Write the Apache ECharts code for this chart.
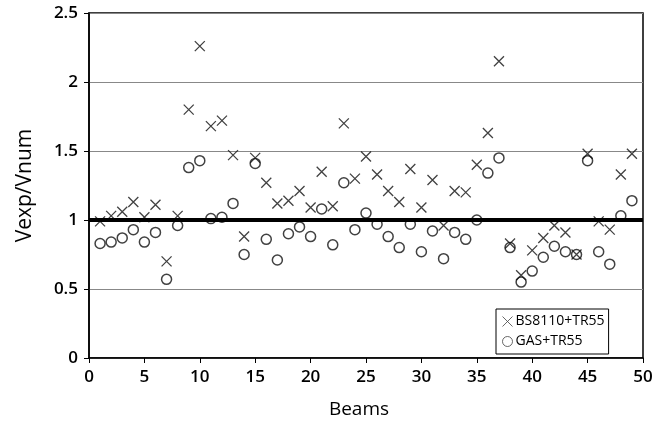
<!DOCTYPE html>
<html>
<head>
<meta charset="utf-8">
<script src="https://cdn.jsdelivr.net/npm/echarts@6/dist/echarts.min.js"></script>
<style>
    html, body { margin: 0; padding: 0; background: #fff; }
    #chart { width: 670px; height: 424px; }
</style>
</head>
<body>
<div id="chart"></div>
<script>
// beam numbers 1..49
const beams = [1, 2, 3, 4, 5, 6, 7, 8, 9, 10, 11, 12, 13, 14, 15, 16, 17, 18, 19, 20,
    21, 22, 23, 24, 25, 26, 27, 28, 29, 30, 31, 32, 33, 34, 35, 36, 37, 38, 39, 40,
    41, 42, 43, 44, 45, 46, 47, 48, 49]

// Vexp/Vnum, BS8110+TR55
const bs8110 = [0.99, 1.03, 1.06, 1.13, 1.02, 1.11, 0.70, 1.03, 1.80, 2.26,
    1.68, 1.72, 1.47, 0.88, 1.45, 1.27, 1.12, 1.14, 1.21, 1.09,
    1.35, 1.10, 1.70, 1.30, 1.46, 1.33, 1.21, 1.13, 1.37, 1.09,
    1.29, 0.96, 1.21, 1.20, 1.40, 1.63, 2.15, 0.83, 0.60, 0.78,
    0.87, 0.96, 0.91, 0.75, 1.48, 0.99, 0.93, 1.33, 1.48]

// Vexp/Vnum, GAS+TR55
const gas = [0.83, 0.84, 0.87, 0.93, 0.84, 0.91, 0.57, 0.96, 1.38, 1.43,
    1.01, 1.02, 1.12, 0.75, 1.41, 0.86, 0.71, 0.90, 0.95, 0.88,
    1.08, 0.82, 1.27, 0.93, 1.05, 0.97, 0.88, 0.80, 0.97, 0.77,
    0.92, 0.72, 0.91, 0.86, 1.00, 1.34, 1.45, 0.80, 0.55, 0.63,
    0.73, 0.81, 0.77, 0.75, 1.43, 0.77, 0.68, 1.03, 1.14]

const xTicks = [0, 5, 10, 15, 20, 25, 30, 35, 40, 45, 50]
const yTicks = [0, 0.5, 1, 1.5, 2, 2.5]

const crossPath = 'path://M0,0L10,10M10,0L0,10'
const font = "'Open Sans', 'Noto Sans', sans-serif"

const chart = echarts.init(document.getElementById('chart'))

const option = {
    backgroundColor: '#fff',
    animation: false,
    textStyle: { fontFamily: font, color: '#000' },
    grid: {
        left: 89,
        right: 27,
        top: 13,
        bottom: 64,
        show: true,
        borderColor: '#000',
        borderWidth: 1.5,
    },
    legend: {
        orient: 'vertical',
        left: 496,
        top: 309,
        padding: [5, 4, 5, 4],
        itemGap: 5,
        itemWidth: 10,
        itemHeight: 10,
        borderColor: '#000',
        borderWidth: 1,
        backgroundColor: '#fff',
        textStyle: { fontSize: 14, fontFamily: font, color: '#000', padding: [0, 0, 0, -2] },
        data: [
            { name: 'BS8110+TR55', icon: crossPath, itemStyle: { color: 'none', borderColor: '#444', borderWidth: 1 } },
            { name: 'GAS+TR55', icon: 'circle', itemStyle: { color: 'none', borderColor: '#444', borderWidth: 1 } },
        ],
    },
    xAxis: {
        type: 'value',
        min: xTicks[0],
        max: xTicks[xTicks.length - 1],
        interval: 5,
        name: 'Beams',
        nameLocation: 'middle',
        nameGap: 42,
        nameTextStyle: { fontSize: 19, fontFamily: font, color: '#000', padding: [0, 14, 0, 0] },
        axisLine: { lineStyle: { color: '#000', width: 1.5 } },
        axisTick: { show: true, length: 5, lineStyle: { color: '#000' } },
        axisLabel: { fontSize: 17, fontWeight: 600, color: '#000', margin: 11 },
        splitLine: { show: false },
    },
    yAxis: {
        type: 'value',
        min: yTicks[0],
        max: yTicks[yTicks.length - 1],
        interval: 0.5,
        name: 'Vexp/Vnum',
        nameLocation: 'middle',
        nameGap: 53,
        nameTextStyle: { fontSize: 21, fontFamily: font, color: '#000' },
        axisLine: { show: true, lineStyle: { color: '#000', width: 1.5 } },
        axisTick: { show: true, length: 5, lineStyle: { color: '#000' } },
        axisLabel: { fontSize: 17, fontWeight: 600, color: '#000', margin: 11 },
        splitLine: { show: true, lineStyle: { color: '#888', width: 1 } },
    },
    series: [
        {
            name: 'BS8110+TR55',
            type: 'scatter',
            symbol: crossPath,
            symbolSize: 10,
            itemStyle: { color: 'none', borderColor: '#111', borderWidth: 1.3 },
            data: beams.map((b, i) => [b, bs8110[i]]),
            markLine: {
                silent: true,
                symbol: 'none',
                label: { show: false },
                lineStyle: { color: '#000', width: 4, type: 'solid' },
                data: [{ yAxis: 1 }],
            },
            z: 3,
        },
        {
            name: 'GAS+TR55',
            type: 'scatter',
            symbol: 'circle',
            symbolSize: 10,
            itemStyle: { color: 'none', borderColor: '#111', borderWidth: 1.5 },
            data: beams.map((b, i) => [b, gas[i]]),
            z: 3,
        },
    ],
}

chart.setOption(option)
</script>
</body>
</html>
